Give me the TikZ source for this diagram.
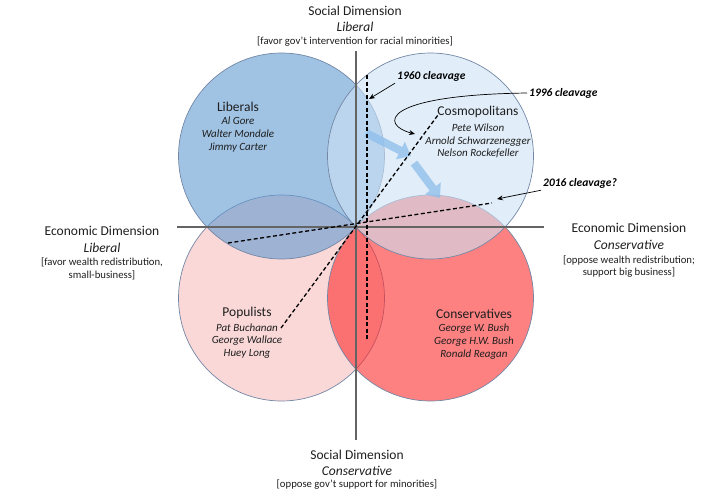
\documentclass[tikz,border=0pt]{standalone}
\usepackage{fontspec}
\setmainfont{Carlito}
\usetikzlibrary{calc,arrows.meta,positioning}

\definecolor{libblue}{RGB}{97,155,210}
\definecolor{cosblue}{RGB}{205,226,245}
\definecolor{poppink}{RGB}{247,190,190}
\definecolor{conred}{RGB}{252,45,45}
\definecolor{rimgray}{RGB}{115,135,165}
\definecolor{axisgray}{RGB}{100,100,100}
\definecolor{shiftblue}{RGB}{140,190,235}
\definecolor{txtgray}{RGB}{30,30,30}

\tikzset{
  camp/.style={draw=rimgray, line width=0.7pt, fill opacity=0.6},
  axisline/.style={draw=axisgray, line width=1.4pt},
  axislbl/.style={font=\fontsize{13.5}{16.5}\selectfont, align=center, inner sep=0pt, text=txtgray},
  axisnote/.style={font=\fontsize{10.7}{12.8}\selectfont, align=center, inner sep=0pt, text=txtgray},
  grouptitle/.style={font=\fontsize{13.5}{16}\selectfont, inner sep=0pt, text=txtgray},
  groupnames/.style={font=\fontsize{11}{12.8}\selectfont\itshape, align=center, inner sep=0pt, text=txtgray},
  cleavlbl/.style={font=\fontsize{11.5}{13}\selectfont\bfseries\itshape, inner sep=2pt},
  cleavline/.style={dashed, line width=1.3pt, dash pattern=on 4pt off 2.5pt},
  pointer/.style={-{Stealth[length=6pt,width=5pt]}, line width=0.7pt},
  shiftarrow/.style={shiftblue, line width=8pt, -{Triangle[length=12pt,width=19pt]}}
}

\begin{document}
\begin{tikzpicture}[x=1pt,y=-1pt]
  \useasboundingbox (0,0) rectangle (728,498);

  % Define the origin and the radius of the camps
  \coordinate (O) at (356,227);
  \def\radius{103pt}

  % Define the centres of the four camps
  \coordinate (CL) at ($(O)+(-74.5,-71)$);
  \coordinate (CC) at ($(O)+(74.5,-71)$);
  \coordinate (CP) at ($(O)+(-74.5,71)$);
  \coordinate (CR) at ($(O)+(74.5,71)$);

  % Draw the camps
  \filldraw[camp, fill=poppink] (CP) circle (\radius);
  \filldraw[camp, fill=conred] (CR) circle (\radius);
  \filldraw[camp, fill=libblue] (CL) circle (\radius);
  \filldraw[camp, fill=cosblue] (CC) circle (\radius);

  % Draw the axes
  \draw[axisline] (177,227) -- (544,227);
  \draw[axisline] (356,51) -- (356,440);

  % Draw the shifts between the camps
  \begin{scope}[transparency group, opacity=0.75]
    \draw[shiftarrow] (366,133) -- (411,156);
    \draw[shiftarrow] (414,163) -- (440,198);
  \end{scope}

  % Define the ends of the cleavages
  \coordinate (A60) at (367,75);
  \coordinate (B60) at (367,339);
  \coordinate (A96) at (281,328);
  \coordinate (B96) at (438,115);
  \coordinate (A16) at (228,243);
  \coordinate (B16) at (492,203);

  % Draw the cleavages
  \draw[cleavline] (A60) -- (B60);
  \draw[cleavline] (A96) -- (B96);
  \draw[cleavline] (A16) -- (B16);

  % Labels of the cleavages
  \node[cleavlbl, anchor=west] (lbl60) at (395,76) {1960 cleavage};
  \node[cleavlbl, anchor=west] (lbl96) at (527,93) {1996 cleavage};
  \node[cleavlbl, anchor=west] (lbl16) at (541,183) {2016 cleavage?};

  \coordinate (P60) at (369,99);
  \coordinate (P96) at (415,134);
  \coordinate (P16) at (497,199);
  \draw[pointer] (lbl60.south west) -- (P60);
  \draw[pointer] (lbl96.west) .. controls (380,95) and (380,125) .. (P96);
  \draw[pointer] (lbl16.south west) -- (P16);

  % Names of the camps
  \node[grouptitle] (libT) at (238,107) {Liberals};
  \node[groupnames] (libN) at (238,134.5) {Al Gore\\Walter Mondale\\Jimmy Carter};
  \node[grouptitle] (cosT) at (478,112) {Cosmopolitans};
  \node[groupnames] (cosN) at (478,141) {Pete Wilson\\Arnold Schwarzenegger\\Nelson Rockefeller};
  \node[grouptitle] (popT) at (247,313) {Populists};
  \node[groupnames] (popN) at (247,341) {Pat Buchanan\\George Wallace\\Huey Long};
  \node[grouptitle] (conT) at (474,314) {Conservatives};
  \node[groupnames] (conN) at (474,341.5) {George W. Bush\\George H.W. Bush\\Ronald Reagan};

  % Labels of the axes
  \node[axislbl] (socLib) at (355,19) {Social Dimension\\\textit{Liberal}};
  \node[axisnote] (socLibNote) at (355,42) {[favor gov't intervention for racial minorities]};
  \node[axislbl] (ecoLib) at (102,239.5) {Economic Dimension\\\textit{Liberal}};
  \node[axisnote] (ecoLibNote) at (102,269) {[favor wealth redistribution,\\small-business]};
  \node[axislbl] (ecoCon) at (629,236.5) {Economic Dimension\\\textit{Conservative}};
  \node[axisnote] (ecoConNote) at (629,266.5) {[oppose wealth redistribution;\\support big business]};
  \node[axislbl] (socCon) at (357,463) {Social Dimension\\\textit{Conservative}};
  \node[axisnote] (socConNote) at (357,485) {[oppose gov't support for minorities]};

\end{tikzpicture}
\end{document}
